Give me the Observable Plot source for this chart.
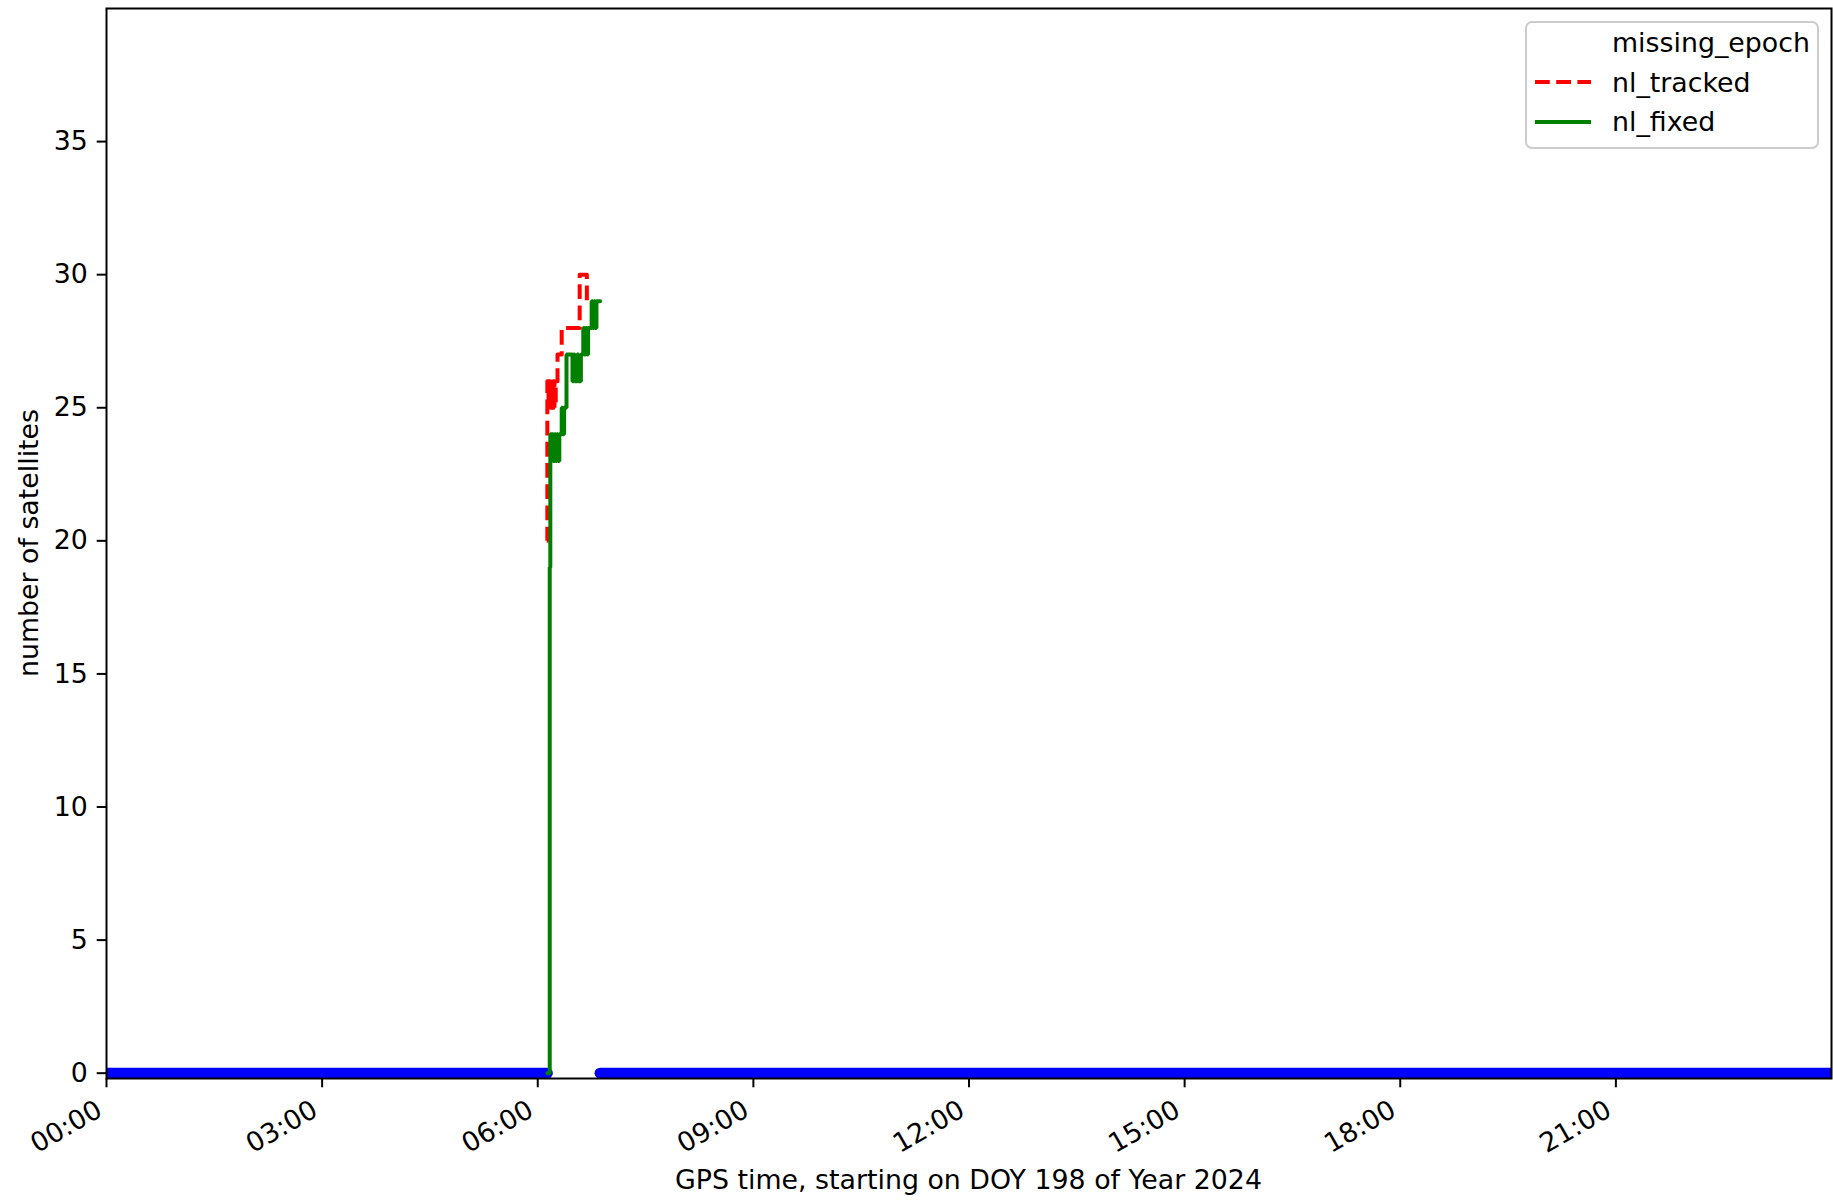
<!DOCTYPE html>
<html><head><meta charset="utf-8">
<script src="https://cdn.jsdelivr.net/npm/d3@7"></script>
<script src="https://cdn.jsdelivr.net/npm/@observablehq/plot@0.6"></script>
<style>
html,body{margin:0;padding:0;background:#fff;}
#chart{position:relative;width:1833px;height:1201px;}
svg{font-family:"DejaVu Sans",sans-serif;}
</style></head><body><div id="chart"></div>
<script>
// ---- data (GPS time of day, DOY 198 / 2024) ----
const trackedTimes  = ["06:07:30","06:08:00","06:09:00","06:09:30","06:10:30","06:11:00","06:12:00","06:13:00","06:14:00","06:15:00","06:16:30","06:20:00","06:35:00","06:41:00","06:44:00"];
const trackedValues = [20,26,25,26,25,26,25,26,25,26,27,28,30,29,29];

const fixedTimes  = ["06:08:00","06:10:00","06:10:30","06:11:30","06:12:00","06:13:00","06:14:00","06:15:00","06:16:00","06:17:00","06:18:00","06:20:00","06:21:00","06:22:00","06:24:00","06:29:00","06:30:00","06:31:00","06:33:00","06:34:00","06:36:00","06:38:00","06:39:00","06:40:00","06:41:00","06:42:00","06:45:00","06:46:00","06:47:00","06:48:00","06:49:00","06:50:00","06:52:00"];
const fixedValues = [0,19,24,23,24,23,24,23,24,23,24,25,24,25,27,26,27,26,27,26,27,28,27,28,27,28,29,28,29,28,29,29,29];

const missingStart = ["00:00:00","06:52:00"];
const missingEnd   = ["06:08:00","23:59:30"];

const xTicks = [0,3,6,9,12,15,18,21];
const xTickLabels = ["00:00","03:00","06:00","09:00","12:00","15:00","18:00","21:00"];
const yTicks = [0,5,10,15,20,25,30,35];

const legendLabels = ["missing_epoch","nl_tracked","nl_fixed"];
const xLabel = "GPS time, starting on DOY 198 of Year 2024";
const yLabel = "number of satellites";

// ---- build tables ----
const toH = s => { const [h,m,sec] = s.split(":").map(Number); return h + m/60 + (sec||0)/3600; };
const tracked = trackedTimes.map((t,i)=>({x:toH(t), y:trackedValues[i]}));
const fixed = fixedTimes.map((t,i)=>({x:toH(t), y:fixedValues[i]}));
const missing = missingStart.map((t,i)=>({x1:toH(t), x2:toH(missingEnd[i])}));

const FS = 26.8;
const W = 1833, H = 1201;
const chart = Plot.plot({
  width: W, height: H,
  marginLeft: 106, marginRight: 2, marginTop: 8, marginBottom: 123,
  style: {fontFamily: "DejaVu Sans", fontSize: FS + "px", background: "#fff", color: "#000", overflow: "visible"},
  x: {type: "linear", domain: [0, 24]},
  y: {type: "linear", domain: [-0.2, 40]},
  marks: [
    Plot.link(missing, {x1: "x1", x2: "x2", y1: () => 0, y2: () => 0, stroke: "#0000ff", strokeWidth: 11, strokeLinecap: "round", clip: true}),
    Plot.line(tracked, {x: "x", y: "y", curve: "step-after", stroke: "#ff0000", strokeWidth: 4, strokeDasharray: "14.8,6.4", strokeLinecap: "butt", clip: true}),
    Plot.line(fixed, {x: "x", y: "y", curve: "step-after", stroke: "#008000", strokeWidth: 4, strokeLinejoin: "miter", clip: true}),
    Plot.frame({stroke: "#000", strokeWidth: 2, strokeOpacity: 1}),
    Plot.axisY({ticks: yTicks, tickSize: 9.3, tickPadding: 9.3, tickFormat: d => String(d), label: null, strokeWidth: 2, fontSize: FS}),
    Plot.axisX({ticks: xTicks, tickSize: 9.3, tickFormat: () => "", label: null, strokeWidth: 2}),
    Plot.text(xTicks, {x: d => d, frameAnchor: "bottom", text: d => xTickLabels[xTicks.indexOf(d)], rotate: -30, textAnchor: "end", lineAnchor: "top", dx: -12, dy: 20, fontSize: FS, fill: "#000"})
  ]
});
document.getElementById("chart").appendChild(chart);

// ---- axis titles and legend ----
const svg = d3.select(chart);
svg.append("text").attr("x", 968.5).attr("y", 1189).attr("text-anchor", "middle")
  .attr("font-size", FS).attr("fill", "#000").text(xLabel);
svg.append("text").attr("transform", "translate(37.5,543) rotate(-90)").attr("text-anchor", "middle")
  .attr("font-size", FS).attr("fill", "#000").text(yLabel);

const lg = svg.append("g");
lg.append("rect").attr("x", 1526).attr("y", 22).attr("width", 292).attr("height", 126).attr("rx", 6)
  .attr("fill", "#fff").attr("fill-opacity", 0.8).attr("stroke", "#cccccc").attr("stroke-width", 2);
const ys = [52, 92, 131];
legendLabels.forEach((l, i) => {
  lg.append("text").attr("x", 1612).attr("y", ys[i]).attr("text-anchor", "start")
    .attr("font-size", FS).attr("fill", "#000").text(l);
});
lg.append("line").attr("x1", 1535).attr("x2", 1591).attr("y1", 82).attr("y2", 82)
  .attr("stroke", "#ff0000").attr("stroke-width", 4).attr("stroke-dasharray", "14.8,6.4");
lg.append("line").attr("x1", 1535).attr("x2", 1591).attr("y1", 122).attr("y2", 122)
  .attr("stroke", "#008000").attr("stroke-width", 4);
</script></body></html>
